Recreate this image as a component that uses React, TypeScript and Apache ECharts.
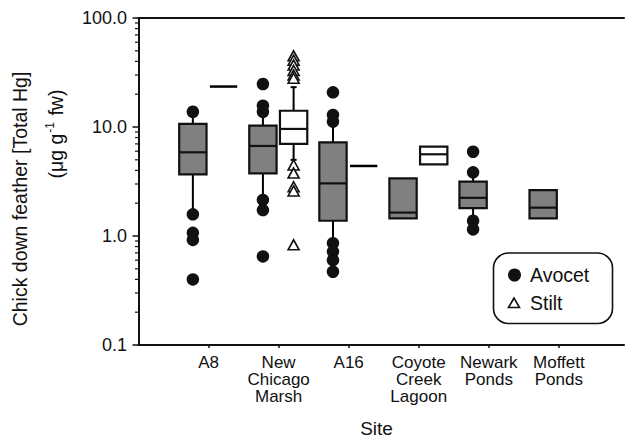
import React, { useEffect, useRef } from 'react';
import * as echarts from 'echarts';

const sites = ['A8', 'New\nChicago\nMarsh', 'A16', 'Coyote\nCreek\nLagoon', 'Newark\nPonds', 'Moffett\nPonds'];
const siteTickValues = [1, 2, 3, 4, 5, 6];
const yMajorTicks = [0.1, 1, 10, 100];
const yMinorTicks = [0.2, 0.3, 0.4, 0.5, 0.6, 0.7, 0.8, 0.9, 2, 3, 4, 5, 6, 7, 8, 9, 20, 30, 40, 50, 60, 70, 80, 90];

// [low whisker, q1, median, q3, high whisker] per site (null = no data)
const avocetBoxes: (number[] | null)[] = [
  [1.6, 3.68, 5.86, 10.7, 13.5],
  [2.1, 3.76, 6.7, 10.3, 13.8],
  [0.86, 1.38, 3.04, 7.24, 11.3],
  [1.45, 1.45, 1.64, 3.38, 3.38],
  [1.38, 1.8, 2.24, 3.15, 3.84],
  [1.45, 1.45, 1.82, 2.64, 2.64],
];
const stiltBoxes: (number[] | null)[] = [
  [23.5, 23.5, 23.5, 23.5, 23.5],
  [5.0, 7.0, 9.6, 14.1, 23.2],
  [4.39, 4.39, 4.39, 4.39, 4.39],
  [4.55, 4.55, 5.62, 6.6, 6.6],
  null,
  null,
];
const avocetOutliers: number[][] = [
  [13.8, 1.58, 1.07, 0.92, 0.4],
  [24.8, 15.7, 13.8, 2.14, 1.73, 0.65],
  [20.8, 12.9, 11.2, 0.86, 0.72, 0.6, 0.47],
  [],
  [5.93, 3.84, 1.38, 1.15],
  [],
];
const stiltOutliers: number[][] = [
  [],
  [45, 41, 37, 33, 30, 28, 4.48, 3.78, 2.83, 2.59, 0.83],
  [],
  [],
  [],
  [],
];

const FONT = 'Liberation Sans, Arial, Helvetica, sans-serif';
const AVOCET_OFFSET = -0.224;
const STILT_OFFSET = 0.214;
const BOX_W = 0.39;

function boxData(boxes: (number[] | null)[]) {
  const out: number[][] = [];
  boxes.forEach((b, i) => {
    if (b) out.push([i + 1, ...b]);
  });
  return out;
}

function outlierData(list: number[][], offset: number) {
  const out: number[][] = [];
  list.forEach((vals, i) => vals.forEach((v) => out.push([i + 1 + offset, v])));
  return out;
}

function makeBoxRender(fill: string, offset: number) {
  return (params: any, api: any) => {
    const x = api.value(0) + offset;
    const low = api.value(1);
    const q1 = api.value(2);
    const med = api.value(3);
    const q3 = api.value(4);
    const high = api.value(5);
    const w = api.size([BOX_W, 1])[0];
    const cx = api.coord([x, med])[0];
    const yLow = api.coord([x, low])[1];
    const yQ1 = api.coord([x, q1])[1];
    const yMed = api.coord([x, med])[1];
    const yQ3 = api.coord([x, q3])[1];
    const yHigh = api.coord([x, high])[1];
    const stroke = { stroke: '#000', lineWidth: 2 };
    const children: any[] = [];
    if (q1 === q3) {
      children.push({
        type: 'line',
        shape: { x1: cx - w / 2, y1: yMed, x2: cx + w / 2, y2: yMed },
        style: { stroke: '#000', lineWidth: 2.5 },
      });
    } else {
      if (high > q3) {
        children.push({ type: 'line', shape: { x1: cx, y1: yQ3, x2: cx, y2: yHigh }, style: stroke });
        children.push({ type: 'line', shape: { x1: cx - 3, y1: yHigh, x2: cx + 3, y2: yHigh }, style: stroke });
      }
      if (low < q1) {
        children.push({ type: 'line', shape: { x1: cx, y1: yQ1, x2: cx, y2: yLow }, style: stroke });
        children.push({ type: 'line', shape: { x1: cx - 3, y1: yLow, x2: cx + 3, y2: yLow }, style: stroke });
      }
      children.push({
        type: 'rect',
        shape: { x: cx - w / 2, y: yQ3, width: w, height: yQ1 - yQ3 },
        style: { fill, stroke: '#111', lineWidth: 2.2 },
      });
      children.push({
        type: 'line',
        shape: { x1: cx - w / 2, y1: yMed, x2: cx + w / 2, y2: yMed },
        style: { stroke: '#111', lineWidth: 2.2 },
      });
    }
    return { type: 'group', children };
  };
}

export default function App() {
  const ref = useRef<HTMLDivElement>(null);
  useEffect(() => {
    if (!ref.current) return;
    const chart = echarts.init(ref.current, undefined, { renderer: 'svg' });
    const option: any = {
      animation: false,
      backgroundColor: '#fff',
      grid: { left: 138.5, right: 1, top: 18, bottom: 93, containLabel: false },
      xAxis: [
        {
          type: 'value',
          min: 0,
          max: 6.93,
          interval: 1,
          splitLine: { show: false },
          axisLine: { show: true, lineStyle: { color: '#111', width: 2 } },
          axisTick: { show: true, length: 3, customValues: siteTickValues, lineStyle: { color: '#111', width: 1.5 } },
          axisLabel: {
            customValues: siteTickValues,
            formatter: (v: number) => sites[Math.round(v) - 1] ?? '',
            fontFamily: FONT,
            fontSize: 17,
            lineHeight: 17,
            color: '#111',
            margin: 9,
          },
        },
        {
          type: 'value',
          position: 'top',
          min: 0,
          max: 6.93,
          splitLine: { show: false },
          axisLine: { show: true, onZero: false, lineStyle: { color: '#111', width: 2 } },
          axisTick: { show: false },
          axisLabel: { show: false },
        },
      ],
      yAxis: {
        type: 'log',
        logBase: 10,
        min: 0.1,
        max: 100,
        splitLine: { show: false },
        axisLine: { show: true, lineStyle: { color: '#111', width: 2 } },
        axisTick: { show: true, length: 6, lineStyle: { color: '#111', width: 1.5 } },
        axisLabel: {
          formatter: (v: number) => (yMajorTicks.includes(Number(v.toPrecision(6))) ? Number(v).toFixed(1) : ''),
          fontFamily: FONT,
          fontSize: 18,
          color: '#111',
          margin: 11.5,
        },
      },
      series: [
        {
          type: 'custom',
          name: 'minorTicks',
          data: yMinorTicks.map((v) => [0, v]),
          silent: true,
          renderItem: (params: any, api: any) => {
            const p = api.coord([0, api.value(1)]);
            return {
              type: 'line',
              shape: { x1: p[0] - 3.5, y1: p[1], x2: p[0], y2: p[1] },
              style: { stroke: '#111', lineWidth: 1.2 },
            };
          },
          z: 1,
        },
        {
          type: 'custom',
          name: 'Avocet boxes',
          data: boxData(avocetBoxes),
          encode: { x: 0, y: [1, 2, 3, 4, 5] },
          renderItem: makeBoxRender('#808080', AVOCET_OFFSET),
          z: 2,
        },
        {
          type: 'custom',
          name: 'Stilt boxes',
          data: boxData(stiltBoxes),
          encode: { x: 0, y: [1, 2, 3, 4, 5] },
          renderItem: makeBoxRender('#ffffff', STILT_OFFSET),
          z: 2,
        },
        {
          type: 'scatter',
          name: 'Avocet',
          data: outlierData(avocetOutliers, AVOCET_OFFSET),
          symbol: 'circle',
          symbolSize: 12.5,
          itemStyle: { color: '#111', opacity: 1 },
          z: 5,
        },
        {
          type: 'scatter',
          name: 'Stilt',
          data: outlierData(stiltOutliers, STILT_OFFSET),
          symbol: 'triangle',
          symbolSize: [11, 10],
          itemStyle: { color: '#fff', borderColor: '#111', borderWidth: 1.6, opacity: 1 },
          z: 5,
        },
      ],
      graphic: [
        {
          type: 'text',
          x: 20,
          y: 199,
          rotation: Math.PI / 2,
          style: {
            text: 'Chick down feather [Total Hg]',
            fontFamily: FONT,
            fontSize: 19.5,
            fill: '#111',
            textAlign: 'center',
            textVerticalAlign: 'middle',
          },
        },
        {
          type: 'text',
          x: 55,
          y: 134,
          rotation: Math.PI / 2,
          style: {
            text: '{a|(μg g}{s|-1}{a| fw)}',
            rich: {
              a: { fontFamily: FONT, fontSize: 19.5, fill: '#111', lineHeight: 22, verticalAlign: 'bottom' },
              s: { fontFamily: FONT, fontSize: 12, fill: '#111', lineHeight: 22, verticalAlign: 'top', padding: [0, 1, 0, 1] },
            },
            textAlign: 'center',
            textVerticalAlign: 'middle',
          },
        },
        {
          type: 'text',
          x: 376.5,
          y: 428,
          style: {
            text: 'Site',
            fontFamily: FONT,
            fontSize: 19,
            fill: '#111',
            textAlign: 'center',
            textVerticalAlign: 'middle',
          },
        },
        {
          type: 'rect',
          shape: { x: 493.5, y: 253, width: 119, height: 70.5, r: 15 },
          style: { fill: '#fff', stroke: '#111', lineWidth: 1.6 },
          z: 10,
        },
        {
          type: 'circle',
          shape: { cx: 514.5, cy: 275, r: 6.5 },
          style: { fill: '#111' },
          z: 11,
        },
        {
          type: 'polygon',
          shape: { points: [[514, 298], [508.5, 307.5], [519.5, 307.5]] },
          style: { fill: '#fff', stroke: '#111', lineWidth: 1.6 },
          z: 11,
        },
        {
          type: 'text',
          x: 530,
          y: 275,
          style: { text: 'Avocet', fontFamily: FONT, fontSize: 19.5, fill: '#111', textVerticalAlign: 'middle' },
          z: 11,
        },
        {
          type: 'text',
          x: 530,
          y: 303,
          style: { text: 'Stilt', fontFamily: FONT, fontSize: 19.5, fill: '#111', textVerticalAlign: 'middle' },
          z: 11,
        },
      ],
    };
    chart.setOption(option);
    return () => chart.dispose();
  }, []);
  return <div ref={ref} style={{ position: 'fixed', left: 0, top: 0, width: 625, height: 438 }} />;
}
